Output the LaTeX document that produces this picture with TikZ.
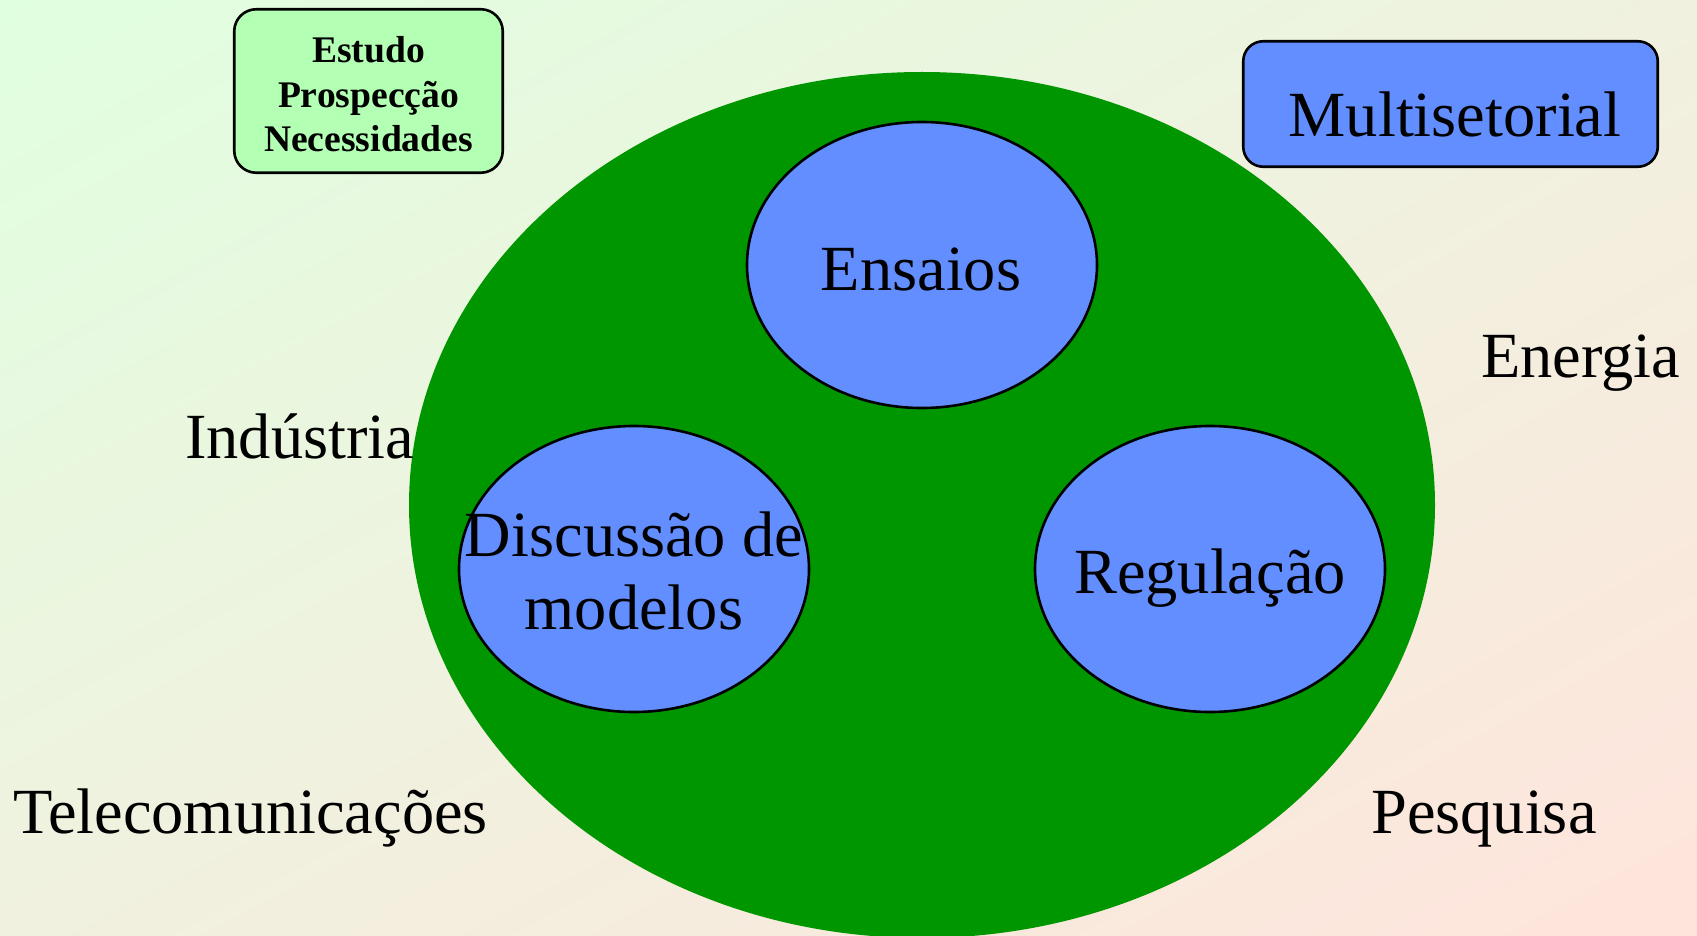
\documentclass[tikz,border=0pt]{standalone}
\usepackage{fontspec}
\setmainfont{Liberation Serif}
\usetikzlibrary{shapes.geometric,shadings}
\definecolor{bgtl}{HTML}{E0FFE0}
\definecolor{bgmid}{HTML}{F0F1DF}
\definecolor{bgbr}{HTML}{FFE4DC}
\definecolor{hubgreen}{HTML}{009600}
\definecolor{blobblue}{HTML}{628EFF}
\definecolor{boxgreen}{HTML}{B3FFB3}
\begin{document}
\begin{tikzpicture}[x=1pt,y=-1pt,
  blob/.style={ellipse, draw=black, line width=2.6pt, fill=blobblue, inner sep=0pt, minimum width=350pt, minimum height=286pt},
  bigtext/.style={font=\fontsize{64.4}{73.6}\selectfont, inner sep=0pt},
  smalltext/.style={font=\bfseries\fontsize{37.6}{44.5}\selectfont, inner sep=0pt, align=center},
  rbox/.style={rectangle, rounded corners=22pt, draw=black, line width=2.6pt, inner sep=0pt}]
\useasboundingbox (0,0) rectangle (1697,936);
\shade[upper left=bgtl, upper right=bgmid, lower left=bgmid, lower right=bgbr] (0,0) rectangle (1697,936);
\node[ellipse, fill=hubgreen, minimum width=1026pt, minimum height=866pt, inner sep=0pt] (hub) at (922,505) {};
\node[blob] (ens) at (922,265) {};
\node[blob] (disc) at (634,569) {};
\node[blob] (reg) at (1210,569) {};
\node[bigtext, anchor=base] (tens) at (921,290) {Ensaios};
\node[bigtext, align=center] (tdisc) at (634,571) {Discussão de\\modelos};
\node[bigtext, anchor=base] (treg) at (1210,593) {Regulação};
\node[rbox, fill=boxgreen, minimum width=268.5pt, minimum height=163.5pt] (est) at (368.5,91) {};
\node[smalltext] (test) at (368.5,94.6) {Estudo\\Prospecção\\Necessidades};
\node[rbox, fill=blobblue, rounded corners=20pt, minimum width=414.5pt, minimum height=125.5pt] (mult) at (1450.5,104) {};
\node[bigtext, anchor=base] (tmult) at (1455,137) {Multisetorial};
\node[bigtext, anchor=base west] (ind) at (185,458) {Indústria};
\node[bigtext, anchor=base west] (ene) at (1481,377) {Energia};
\node[bigtext, anchor=base west] (tel) at (13,833) {Telecomunicações};
\node[bigtext, anchor=base west] (pes) at (1371,833) {Pesquisa};
\end{tikzpicture}
\end{document}
